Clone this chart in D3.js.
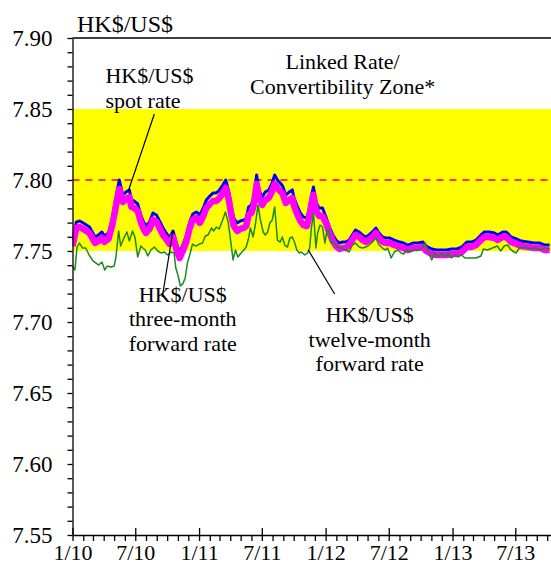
<!DOCTYPE html>
<html><head><meta charset="utf-8">
<script src="https://cdn.jsdelivr.net/npm/d3@7"></script>
<style>body{margin:0;background:#fff}svg{display:block}</style>
</head><body><svg id="c" width="551" height="566"></svg>
<script>
const spotDates = ["2010-01-01","2010-01-12","2010-01-22","2010-02-01","2010-02-10","2010-02-19","2010-02-27","2010-03-07","2010-03-17","2010-03-27",
"2010-04-03","2010-04-15","2010-04-25","2010-05-01","2010-05-10","2010-05-16","2010-05-26","2010-06-04","2010-06-14","2010-06-20",
"2010-06-28","2010-07-08","2010-07-18","2010-07-25","2010-08-01","2010-08-11","2010-08-21","2010-08-31","2010-09-09","2010-09-19",
"2010-09-28","2010-10-08","2010-10-18","2010-10-28","2010-11-06","2010-11-15","2010-11-25","2010-12-05","2010-12-14","2010-12-24",
"2011-01-03","2011-01-12","2011-01-22","2011-02-01","2011-02-10","2011-02-19","2011-02-27","2011-03-09","2011-03-19","2011-03-28",
"2011-04-04","2011-04-11","2011-04-21","2011-04-30","2011-05-10","2011-05-17","2011-05-24","2011-06-01","2011-06-08","2011-06-16",
"2011-06-23","2011-07-02","2011-07-11","2011-07-21","2011-07-31","2011-08-07","2011-08-15","2011-08-23","2011-08-30","2011-09-08",
"2011-09-18","2011-09-27","2011-10-02","2011-10-12","2011-10-20","2011-10-29","2011-11-08","2011-11-16","2011-11-21","2011-11-27",
"2011-12-04","2011-12-13","2011-12-23","2012-01-02","2012-01-12","2012-01-22","2012-01-31","2012-02-10","2012-02-19","2012-02-28",
"2012-03-09","2012-03-18","2012-03-27","2012-04-07","2012-04-16","2012-04-26","2012-05-05","2012-05-15","2012-05-25","2012-06-03",
"2012-06-13","2012-06-22","2012-07-03","2012-07-17","2012-08-02","2012-08-13","2012-08-25","2012-09-09","2012-09-23","2012-10-08",
"2012-10-17","2012-11-02","2012-11-16","2012-11-30","2012-12-15","2012-12-29","2013-01-13","2013-01-28","2013-02-11","2013-02-24",
"2013-03-10","2013-03-24","2013-04-03","2013-04-17","2013-05-02","2013-05-11","2013-05-26","2013-06-05","2013-06-19","2013-07-04",
"2013-07-18","2013-08-06","2013-08-25","2013-09-10","2013-09-24","2013-10-08"];

const spotValues = [7.7577,7.7704,7.7711,7.7697,7.7683,7.7669,7.7634,7.7599,7.7613,7.7634,
7.7606,7.7627,7.7718,7.7803,7.7930,7.8000,7.7894,7.7915,7.7930,7.7859,
7.7852,7.7831,7.7746,7.7704,7.7676,7.7704,7.7768,7.7754,7.7711,7.7662,
7.7627,7.7592,7.7641,7.7549,7.7493,7.7542,7.7606,7.7704,7.7761,7.7775,
7.7754,7.7796,7.7859,7.7887,7.7908,7.7908,7.7923,7.7958,7.8000,7.7915,
7.7810,7.7732,7.7697,7.7711,7.7718,7.7732,7.7810,7.7824,7.7880,7.8035,
7.7930,7.7880,7.7915,7.7930,7.7979,7.8035,7.8000,7.7979,7.7958,7.7894,
7.7915,7.7930,7.7873,7.7810,7.7768,7.7739,7.7732,7.7810,7.7887,7.7951,
7.7845,7.7803,7.7803,7.7739,7.7669,7.7613,7.7577,7.7556,7.7563,7.7563,
7.7577,7.7613,7.7648,7.7634,7.7613,7.7599,7.7613,7.7634,7.7662,7.7627,
7.7599,7.7592,7.7592,7.7577,7.7563,7.7556,7.7542,7.7556,7.7556,7.7563,
7.7535,7.7514,7.7507,7.7507,7.7507,7.7514,7.7514,7.7528,7.7563,7.7563,
7.7577,7.7613,7.7634,7.7634,7.7627,7.7613,7.7634,7.7634,7.7599,7.7585,
7.7570,7.7563,7.7556,7.7556,7.7542,7.7542];

const fwd3Values = [7.7535,7.7662,7.7669,7.7655,7.7641,7.7627,7.7592,7.7557,7.7571,7.7592,
7.7564,7.7585,7.7676,7.7747,7.7867,7.7937,7.7845,7.7866,7.7881,7.7810,
7.7803,7.7782,7.7697,7.7655,7.7627,7.7655,7.7719,7.7705,7.7662,7.7613,
7.7585,7.7550,7.7599,7.7507,7.7451,7.7500,7.7564,7.7662,7.7719,7.7733,
7.7698,7.7740,7.7803,7.7831,7.7852,7.7852,7.7867,7.7902,7.7944,7.7859,
7.7754,7.7676,7.7641,7.7655,7.7662,7.7676,7.7754,7.7768,7.7824,7.7972,
7.7874,7.7824,7.7859,7.7874,7.7923,7.7972,7.7944,7.7923,7.7902,7.7838,
7.7859,7.7874,7.7817,7.7754,7.7712,7.7683,7.7676,7.7754,7.7831,7.7895,
7.7789,7.7747,7.7747,7.7697,7.7627,7.7571,7.7535,7.7514,7.7521,7.7521,
7.7542,7.7578,7.7613,7.7599,7.7578,7.7564,7.7578,7.7599,7.7627,7.7592,
7.7564,7.7557,7.7557,7.7542,7.7528,7.7521,7.7507,7.7521,7.7521,7.7528,
7.7500,7.7479,7.7472,7.7472,7.7472,7.7479,7.7479,7.7493,7.7528,7.7528,
7.7542,7.7578,7.7599,7.7599,7.7592,7.7578,7.7599,7.7599,7.7564,7.7550,
7.7535,7.7528,7.7521,7.7521,7.7507,7.7507];

const fwd12Dates = ["2010-01-01","2010-01-08","2010-01-14","2010-01-21","2010-01-30","2010-02-08","2010-02-18","2010-03-01","2010-03-18","2010-03-27",
"2010-04-04","2010-04-11","2010-04-22","2010-05-01","2010-05-06","2010-05-14","2010-05-20","2010-05-28","2010-06-07","2010-06-14",
"2010-06-23","2010-06-30","2010-07-08","2010-07-17","2010-07-23","2010-07-30","2010-08-06","2010-08-15","2010-08-25","2010-09-04",
"2010-09-13","2010-09-23","2010-10-03","2010-10-12","2010-10-21","2010-10-26","2010-11-01","2010-11-08","2010-11-15","2010-11-22",
"2010-11-29","2010-12-06","2010-12-13","2010-12-23","2011-01-02","2011-01-11","2011-01-19","2011-01-27","2011-02-06","2011-02-12",
"2011-02-20","2011-02-28","2011-03-09","2011-03-18","2011-03-26","2011-04-03","2011-04-09","2011-04-16","2011-04-23","2011-05-02",
"2011-05-10","2011-05-17","2011-05-24","2011-05-29","2011-06-06","2011-06-13","2011-06-20","2011-06-27","2011-07-05","2011-07-11",
"2011-07-18","2011-07-24","2011-07-31","2011-08-07","2011-08-15","2011-08-23","2011-08-29","2011-09-05","2011-09-13","2011-09-20",
"2011-09-27","2011-10-03","2011-10-10","2011-10-17","2011-10-23","2011-11-02","2011-11-10","2011-11-16","2011-11-21","2011-11-27",
"2011-12-04","2011-12-09","2011-12-16","2011-12-23","2011-12-30","2012-01-05","2012-01-11","2012-01-16","2012-01-24","2012-02-03",
"2012-02-10","2012-02-19","2012-02-28","2012-03-09","2012-03-18","2012-03-27","2012-04-07","2012-04-16","2012-04-26","2012-05-05",
"2012-05-15","2012-05-25","2012-06-03","2012-06-13","2012-06-22","2012-06-28","2012-07-08","2012-07-17","2012-07-27","2012-08-06",
"2012-08-13","2012-08-21","2012-08-30","2012-09-14","2012-09-28","2012-10-08","2012-10-13","2012-10-17","2012-10-25","2012-11-02",
"2012-11-11","2012-11-20","2012-11-30","2012-12-10","2012-12-19","2012-12-29","2013-01-08","2013-01-17","2013-01-27","2013-02-06",
"2013-02-19","2013-03-10","2013-03-24","2013-03-31","2013-04-12","2013-04-26","2013-05-10","2013-05-20","2013-05-30","2013-06-09",
"2013-06-19","2013-07-03","2013-07-13","2013-07-30","2013-08-11","2013-08-26","2013-09-10","2013-09-24","2013-10-08"];

const fwd12Values = [7.7394,7.7366,7.7528,7.7556,7.7521,7.7521,7.7472,7.7430,7.7401,7.7423,
7.7366,7.7394,7.7387,7.7394,7.7451,7.7641,7.7535,7.7585,7.7634,7.7570,
7.7641,7.7599,7.7458,7.7535,7.7521,7.7507,7.7465,7.7507,7.7528,7.7500,
7.7486,7.7493,7.7472,7.7493,7.7486,7.7380,7.7331,7.7254,7.7268,7.7310,
7.7423,7.7479,7.7549,7.7535,7.7549,7.7556,7.7606,7.7613,7.7662,7.7641,
7.7669,7.7655,7.7711,7.7775,7.7704,7.7556,7.7437,7.7507,7.7458,7.7486,
7.7507,7.7528,7.7592,7.7662,7.7599,7.7697,7.7824,7.7718,7.7634,7.7613,
7.7634,7.7697,7.7718,7.7810,7.7577,7.7563,7.7599,7.7542,7.7528,7.7592,
7.7599,7.7563,7.7507,7.7486,7.7493,7.7472,7.7486,7.7521,7.7662,7.7768,
7.7521,7.7627,7.7683,7.7669,7.7556,7.7648,7.7648,7.7556,7.7563,7.7528,
7.7521,7.7521,7.7507,7.7493,7.7542,7.7556,7.7528,7.7521,7.7528,7.7542,
7.7563,7.7592,7.7542,7.7521,7.7507,7.7521,7.7451,7.7493,7.7507,7.7486,
7.7479,7.7507,7.7493,7.7507,7.7507,7.7528,7.7556,7.7535,7.7486,7.7437,
7.7486,7.7458,7.7486,7.7458,7.7486,7.7451,7.7472,7.7458,7.7472,7.7451,
7.7451,7.7451,7.7465,7.7514,7.7507,7.7521,7.7535,7.7500,7.7535,7.7542,
7.7507,7.7486,7.7521,7.7528,7.7514,7.7521,7.7507,7.7521,7.7514];

const zoneRange = [7.75, 7.85];
const linkedRate = 7.80;
const yDomain = [7.55, 7.90];
const xDomain = ["2010-01-01", "2013-10-12"];
const yTickStep = 0.01;
const yLabelTicks = [7.55, 7.60, 7.65, 7.70, 7.75, 7.80, 7.85, 7.90];
const axisTitle = "HK$/US$";
const zoneLabel = {lines: ["Linked Rate/", "Convertibility Zone*"], at: ["2012-02-19", 7.8782]};
const annotations = [
  {lines: ["HK$/US$", "spot rate"], anchor: "start", at: ["2010-04-06", 7.8683], ptr: [["2010-08-25", 7.8465], ["2010-06-11", 7.7923]]},
  {lines: ["HK$/US$", "three-month", "forward rate"], anchor: "middle", at: ["2010-11-15", 7.7141], ptr: [["2010-10-18", 7.7648], ["2010-09-17", 7.7176]]},
  {lines: ["HK$/US$", "twelve-month", "forward rate"], anchor: "middle", at: ["2012-05-07", 7.7000], ptr: [["2011-11-12", 7.7507], ["2012-01-27", 7.7197]]}
];

const parse = d3.utcParse("%Y-%m-%d");
const L = 72.5, R = 551, T = 38, B = 535;
const FONT = "'Liberation Serif','Times New Roman',Times,serif";
const x = d3.scaleUtc().domain(xDomain.map(parse)).range([L, R]);
const y = d3.scaleLinear().domain(yDomain).range([B, T]);
const svg = d3.select("#c");

svg.append("defs").append("clipPath").attr("id","clip")
  .append("rect").attr("x", L).attr("y", T).attr("width", R - L).attr("height", B - T);

const plot = svg.append("g").attr("clip-path","url(#clip)");
plot.append("rect").attr("x", L).attr("width", R - L)
  .attr("y", y(zoneRange[1])).attr("height", y(zoneRange[0]) - y(zoneRange[1]))
  .attr("fill", "#ffff00");
plot.append("line").attr("x1", L).attr("x2", R)
  .attr("y1", y(linkedRate)).attr("y2", y(linkedRate))
  .attr("stroke", "#ff3a12").attr("stroke-width", 2).attr("stroke-dasharray", "7,6");

const line = d3.line().x(d => x(d[0])).y(d => y(d[1]));
const spot = spotDates.map((d, i) => [parse(d), spotValues[i]]);
const f3 = spotDates.map((d, i) => [parse(d), fwd3Values[i]]);
const f12 = fwd12Dates.map((d, i) => [parse(d), fwd12Values[i]]);

plot.append("path").datum(spot).attr("d", line).attr("fill","none")
  .attr("stroke","#0000ff").attr("stroke-width",3).attr("stroke-linejoin","round");
plot.append("path").datum(f3).attr("d", line).attr("fill","none")
  .attr("stroke","#ff00ff").attr("stroke-width",6.5).attr("stroke-linejoin","round");
plot.append("path").datum(f12).attr("d", line).attr("fill","none")
  .attr("stroke","#1a8a1a").attr("stroke-width",1.5).attr("stroke-linejoin","round");

svg.append("line").attr("x1", L).attr("x2", R).attr("y1", T).attr("y2", T)
  .attr("stroke","#000").attr("stroke-width",1.3);

// y axis
const yTicks = d3.range(Math.round((yDomain[1]-yDomain[0])/yTickStep)+1).map(i => +(yDomain[0] + i*yTickStep).toFixed(2));
const yAxis = d3.axisLeft(y).tickValues(yTicks).tickSize(5).tickSizeOuter(0).tickPadding(15)
  .tickFormat(d => yLabelTicks.some(v => Math.abs(v - d) < 1e-6) ? d.toFixed(2) : "");
const gy = svg.append("g").attr("transform", `translate(${L},0)`).call(yAxis);
gy.attr("font-family", null).attr("font-size", null);
gy.selectAll("path,line").attr("stroke","#000").attr("stroke-width",1.3);
gy.selectAll("text").style("font-family", FONT).style("font-size", "23px").attr("fill","#000");

// x axis
const monthFmt = d3.utcFormat("%-m/%y");
const xAxis = d3.axisBottom(x).ticks(d3.utcMonth.every(1)).tickSize(6).tickSizeOuter(0).tickPadding(0)
  .tickFormat(d => (d.getUTCMonth() % 6 === 0) ? monthFmt(d) : "");
const gx = svg.append("g").attr("transform", `translate(0,${B})`).call(xAxis);
gx.attr("font-family", null).attr("font-size", null);
gx.selectAll("path,line").attr("stroke","#000").attr("stroke-width",1.3);
gx.selectAll(".tick").filter(d => d.getUTCMonth() % 6 === 0).select("line").attr("y1", -7).attr("y2", 6);
gx.selectAll("text").style("font-family", FONT).style("font-size", "22px").attr("fill","#000")
  .attr("dy", null).attr("y", 25);

// axis title
svg.append("text").attr("x", L + 4.5).attr("y", 32).style("font-family", FONT).style("font-size", "24px")
  .attr("fill","#000").text(axisTitle);

// zone label
svg.append("g").selectAll("text").data(zoneLabel.lines).join("text")
  .attr("x", x(parse(zoneLabel.at[0]))).attr("y", (d, i) => y(zoneLabel.at[1]) + i * 25)
  .attr("text-anchor","middle").style("font-family", FONT).style("font-size", "22px").attr("fill","#000")
  .text(d => d);

// annotations
annotations.forEach(a => {
  svg.append("line")
    .attr("x1", x(parse(a.ptr[0][0]))).attr("y1", y(a.ptr[0][1]))
    .attr("x2", x(parse(a.ptr[1][0]))).attr("y2", y(a.ptr[1][1]))
    .attr("stroke","#000").attr("stroke-width",1.2);
  const cx = x(parse(a.at[0])), cy = y(a.at[1]);
  svg.append("g").selectAll("text").data(a.lines).join("text")
    .attr("x", cx).attr("y", (d, i) => cy + i * 24.5)
    .attr("text-anchor", a.anchor).style("font-family", FONT).style("font-size", "22px").attr("fill","#000")
    .text(d => d);
});
</script></body></html>
